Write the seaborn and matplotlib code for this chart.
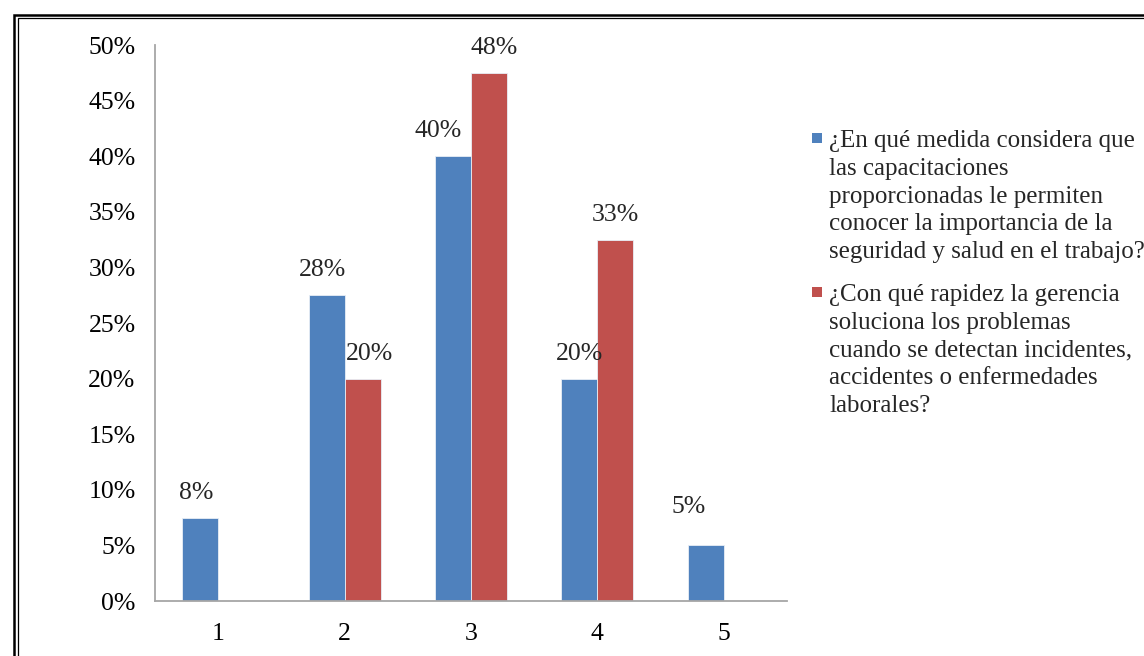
import matplotlib
matplotlib.use("Agg")
import numpy as np
import pandas as pd
import matplotlib.pyplot as plt
from matplotlib.patches import Rectangle
from matplotlib.ticker import PercentFormatter
import seaborn as sns

# Data
categories = ["1", "2", "3", "4", "5"]
serie_capacitaciones = [0.075, 0.275, 0.40, 0.20, 0.05]
serie_gerencia = [0.0, 0.20, 0.475, 0.325, 0.0]
nombre_capacitaciones = ("¿En qué medida considera que\nlas capacitaciones\nproporcionadas le permiten\n"
                         "conocer la importancia de la\nseguridad y salud en el trabajo?")
nombre_gerencia = ("¿Con qué rapidez la gerencia\nsoluciona los problemas\ncuando se detectan incidentes,\n"
                   "accidentes o enfermedades\nlaborales?")
y_ticks = [0, 0.05, 0.10, 0.15, 0.20, 0.25, 0.30, 0.35, 0.40, 0.45, 0.50]

colors = ["#4F81BD", "#C0504D"]

df = pd.DataFrame({
    "categoria": categories * 2,
    "valor": serie_capacitaciones + serie_gerencia,
    "serie": ["capacitaciones"] * 5 + ["gerencia"] * 5,
})

sns.set_style("white")
plt.rcParams["font.family"] = ["Liberation Serif", "DejaVu Serif"]

fig = plt.figure(figsize=(11.44, 6.56), dpi=100)
ax = fig.add_axes([155 / 1144, 1 - 601 / 656, 632 / 1144, 556 / 656])

sns.barplot(data=df, x="categoria", y="valor", hue="serie", order=categories,
            hue_order=["capacitaciones", "gerencia"], palette=colors,
            saturation=1, width=0.571, gap=0, legend=False, ax=ax, errorbar=None,
            edgecolor="#E8EEF6", linewidth=0.6)

ax.set_xlim(-0.5, 4.5)
ax.set_ylim(0, 0.5)
ax.set_yticks(y_ticks)
ax.yaxis.set_major_formatter(PercentFormatter(1.0, decimals=0))
ax.set_xlabel("")
ax.set_ylabel("")
ax.tick_params(axis="both", length=0, labelsize=18.5, colors="black")
ax.tick_params(axis="y", pad=14)
ax.tick_params(axis="x", pad=16)
for side in ["top", "right"]:
    ax.spines[side].set_visible(False)
for side in ["left", "bottom"]:
    ax.spines[side].set_color("#A6A6A6")
    ax.spines[side].set_linewidth(1.3)

# data labels (round half up like Excel); small sideways nudges as placed in the original
nudges = {(0, 2): -11, (1, 2): 4, (0, 4): -12, (1, 1): 5, (0, 0): -3, (0, 1): -3}
for s, cont in enumerate(ax.containers):
    labels = []
    for bar in cont:
        h = bar.get_height()
        labels.append("" if h == 0 else f"{int(np.floor(h * 100 + 0.5))}%")
    texts = ax.bar_label(cont, labels=labels, padding=10, fontsize=18.5)
    for c, t in enumerate(texts):
        dx = nudges.get((s, c), 0)
        extra = 10 if (s, c) == (0, 4) else 0
        t.xyann = (t.xyann[0] + dx, t.xyann[1] + extra)

# legend drawn by hand so the marker sits on the first line
leg_x = 829 / 1144
entries = [(nombre_capacitaciones, colors[0], 138), (nombre_gerencia, colors[1], 292)]
for texto, col, ypix in entries:
    fig.patches.append(Rectangle((812 / 1144, 1 - (ypix + 5) / 656), 10 / 1144, 10 / 656,
                                 facecolor=col, edgecolor="none", transform=fig.transFigure))
    fig.text(leg_x, 1 - (ypix - 8) / 656, texto, fontsize=18, va="top", ha="left",
             linespacing=1.34)

# double frame round the chart (cut off at right and bottom)
fig.patches.append(Rectangle((14 / 1144, -0.1), 1.2, 1 - 15 / 656 + 0.1, fill=False,
                             edgecolor="black", linewidth=1.8, transform=fig.transFigure))
fig.patches.append(Rectangle((17.5 / 1144, -0.1), 1.2, 1 - 18 / 656 + 0.1, fill=False,
                             edgecolor="black", linewidth=0.9, transform=fig.transFigure))

fig.savefig("out.png", dpi=100)
